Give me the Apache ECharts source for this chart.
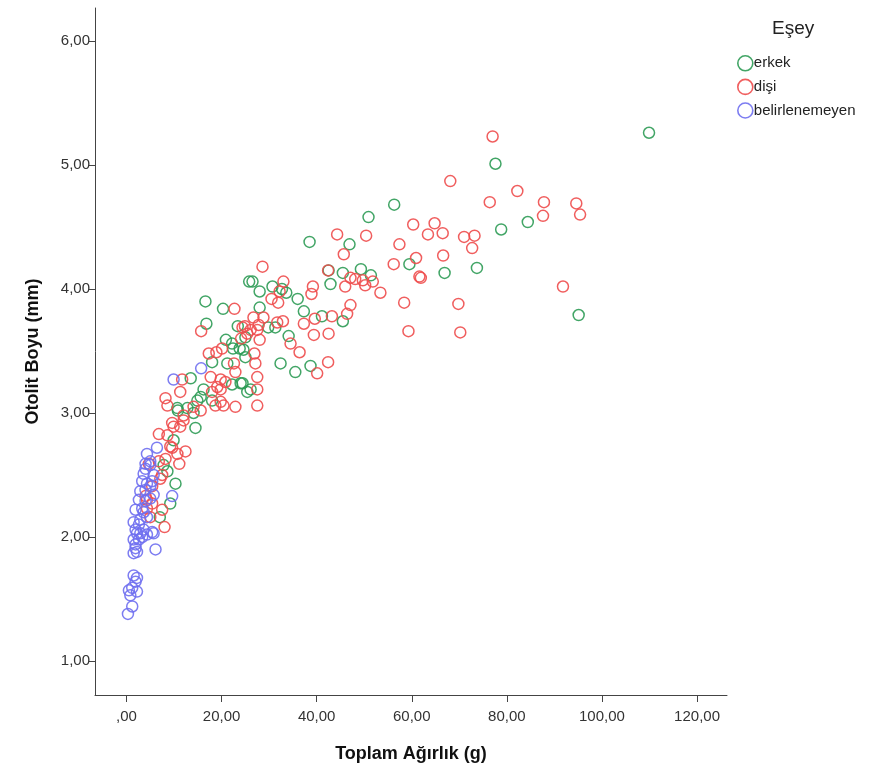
<!DOCTYPE html>
<html>
<head>
<meta charset="utf-8">
<script src="https://cdn.jsdelivr.net/npm/echarts@6/dist/echarts.min.js"></script>
<style>
html,body{margin:0;padding:0;background:#fff;}
#chart{width:872px;height:774px;}
</style>
</head>
<body>
<div id="chart"></div>
<script>
// Data: [Toplam Ağırlık (g), Otolit Boyu (mm)]
var erkek = [
[109.9,5.26],[95.1,3.79],[77.6,5.01],[78.8,4.48],[84.4,4.54],[73.7,4.17],[66.9,4.13],[59.5,4.20],
[56.3,4.68],[50.9,4.58],[49.3,4.16],[51.4,4.11],[46.9,4.36],[45.5,4.13],[45.5,3.74],[42.9,4.04],
[42.5,4.15],[41.1,3.78],[38.5,4.38],[37.3,3.82],[36.0,3.92],[34.1,3.62],[35.5,3.33],[38.7,3.38],
[32.4,3.40],[32.7,4.00],[33.6,3.97],[25.8,4.06],[26.5,4.06],[28.0,3.98],[30.7,4.02],[28.0,3.85],
[29.8,3.69],[31.3,3.69],[25.0,3.61],[24.6,3.51],[25.0,3.45],[25.4,3.17],[24.4,3.24],[16.6,3.90],
[20.3,3.84],[16.8,3.72],[23.4,3.70],[20.9,3.59],[22.2,3.56],[22.4,3.52],[23.8,3.52],[18.0,3.41],
[21.2,3.40],[13.5,3.28],[22.2,3.23],[24.0,3.24],[16.2,3.19],[15.6,3.13],[14.9,3.10],[18.0,3.10],
[26.1,3.19],[10.7,3.04],[12.8,3.04],[14.5,2.88],[14.1,3.00],[10.8,3.02],[9.9,2.78],[8.6,2.53],
[7.8,2.58],[10.3,2.43],[9.2,2.27],[7.0,2.16]
];
var disi = [
[77.0,5.23],[68.1,4.87],[82.2,4.79],[76.4,4.70],[87.8,4.70],[94.6,4.69],[87.6,4.59],[95.4,4.60],
[66.5,4.45],[71.0,4.42],[73.2,4.43],[72.7,4.33],[66.6,4.27],[91.8,4.02],[69.8,3.88],[70.2,3.65],
[60.3,4.52],[64.8,4.53],[63.4,4.44],[44.3,4.44],[50.4,4.43],[57.4,4.36],[45.7,4.28],[60.9,4.25],
[56.2,4.20],[61.6,4.10],[61.9,4.09],[42.4,4.15],[47.1,4.09],[48.1,4.08],[49.7,4.07],[50.2,4.03],
[51.8,4.06],[46.0,4.02],[53.4,3.97],[33.0,4.06],[39.2,4.02],[38.9,3.96],[58.4,3.89],[47.1,3.87],
[46.4,3.80],[43.2,3.78],[39.6,3.76],[37.3,3.72],[32.9,3.74],[59.3,3.66],[39.4,3.63],[42.5,3.64],
[34.5,3.56],[36.4,3.49],[42.4,3.41],[40.1,3.32],[28.6,4.18],[32.2,3.98],[30.5,3.92],[31.9,3.89],
[26.7,3.77],[28.8,3.77],[31.7,3.73],[24.4,3.69],[26.1,3.67],[27.5,3.67],[28.0,3.59],[26.9,3.48],
[27.1,3.40],[27.5,3.29],[27.5,3.19],[22.7,3.84],[15.7,3.66],[24.9,3.70],[27.8,3.71],[24.1,3.60],
[25.4,3.64],[20.1,3.52],[18.9,3.49],[17.3,3.48],[22.6,3.40],[22.9,3.33],[11.7,3.27],[17.7,3.29],
[19.8,3.27],[20.8,3.25],[19.1,3.21],[18.0,3.17],[19.8,3.19],[11.3,3.17],[8.2,3.12],[8.6,3.06],
[22.9,3.05],[19.8,3.09],[18.7,3.06],[20.4,3.06],[27.5,3.06],[14.1,3.05],[15.6,3.02],[12.0,2.98],
[11.3,2.89],[9.6,2.92],[9.9,2.89],[12.0,2.94],[6.8,2.83],[8.6,2.82],[9.6,2.72],[10.7,2.67],
[12.4,2.69],[11.1,2.59],[9.2,2.73],[4.7,2.59],[6.8,2.61],[8.2,2.63],[7.1,2.47],[7.5,2.50],
[4.3,2.30],[5.4,2.27],[4.3,2.23],[7.5,2.22],[5.0,2.16],[8.0,2.08],[4.0,2.33],[5.4,2.41]
];
var belirlenemeyen = [
[15.7,3.36],[9.9,3.27],[6.4,2.72],[4.3,2.67],[4.0,2.59],[5.0,2.61],[5.0,2.58],[4.0,2.55],
[3.6,2.51],[5.7,2.50],[3.3,2.45],[5.4,2.45],[4.3,2.43],[4.0,2.38],[5.0,2.41],[2.9,2.37],
[5.7,2.34],[2.6,2.30],[4.0,2.29],[5.0,2.31],[3.3,2.23],[9.6,2.33],[1.9,2.22],[3.6,2.20],
[4.3,2.16],[2.9,2.14],[2.6,2.10],[1.5,2.12],[3.6,2.06],[2.2,2.03],[3.3,2.00],[4.3,2.02],
[2.6,1.98],[5.4,2.04],[5.7,2.03],[1.5,1.98],[1.9,1.94],[6.1,1.90],[1.5,1.87],[1.9,2.06],
[2.9,2.03],[1.9,1.91],[2.2,1.88],[1.5,1.69],[2.2,1.67],[1.9,1.64],[1.2,1.59],[0.5,1.57],
[2.2,1.56],[0.8,1.53],[1.2,1.44],[0.3,1.38]
];
var xTicks = [0,20,40,60,80,100,120];
var yTicks = [1,2,3,4,5,6];
var seriesNames = ['erkek','dişi','belirlenemeyen'];
var seriesColors = ['#2e9b55','#ee4d4d','#6f6ff0'];

function fmt(v){ return v === 0 ? ',00' : v.toFixed(2).replace('.', ','); }

var FONT = '"Liberation Sans", Arial, sans-serif';
var chart = echarts.init(document.getElementById('chart'), null, {renderer:'canvas'});
var datasets = [erkek, disi, belirlenemeyen];

chart.setOption({
  animation:false,
  backgroundColor:'#ffffff',
  textStyle:{fontFamily:FONT},
  grid:{left:95, right:145, top:8, bottom:79, containLabel:false},
  graphic:[{type:'text', left:772, top:19, style:{text:'Eşey', font:'19px '+FONT, fill:'#222'}}],
  legend:{
    orient:'vertical', left:732, top:50, itemWidth:15, itemHeight:15, itemGap:7,
    textStyle:{fontSize:15, lineHeight:15, color:'#222', fontFamily:FONT, padding:[0,0,0,-4]},
    data: seriesNames.map(function(n,i){
      return {name:n, icon:'circle', itemStyle:{color:'transparent', borderColor:seriesColors[i], borderWidth:1.6}};
    })
  },
  xAxis:{
    type:'value', min:-6.63, max:126.3,
    name:'Toplam Ağırlık (g)', nameLocation:'middle', nameGap:50,
    nameTextStyle:{fontSize:18, fontWeight:'bold', color:'#111', fontFamily:FONT},
    axisLine:{show:true, onZero:false, lineStyle:{color:'#444', width:1}},
    axisTick:{show:true, length:7, customValues:xTicks, lineStyle:{color:'#444'}},
    axisLabel:{customValues:xTicks, formatter:fmt, fontSize:15, color:'#333', margin:14, fontFamily:FONT},
    splitLine:{show:false}
  },
  yAxis:{
    type:'value', min:0.726, max:6.266,
    name:'Otolit Boyu (mm)', nameLocation:'middle', nameGap:53, nameRotate:90,
    nameTextStyle:{fontSize:18, fontWeight:'bold', color:'#111', fontFamily:FONT},
    axisLine:{show:true, onZero:false, lineStyle:{color:'#444', width:1}},
    axisTick:{show:true, length:6, customValues:yTicks, lineStyle:{color:'#444'}},
    axisLabel:{customValues:yTicks, formatter:fmt, fontSize:15, color:'#333', margin:5, fontFamily:FONT},
    splitLine:{show:false}
  },
  series: seriesNames.map(function(n,i){
    return {
      name:n, type:'scatter', data:datasets[i], symbol:'circle', symbolSize:11,
      itemStyle:{color:'transparent', borderColor:seriesColors[i], borderWidth:1.5, opacity:0.9},
      emphasis:{disabled:true}
    };
  })
});
</script>
</body>
</html>
